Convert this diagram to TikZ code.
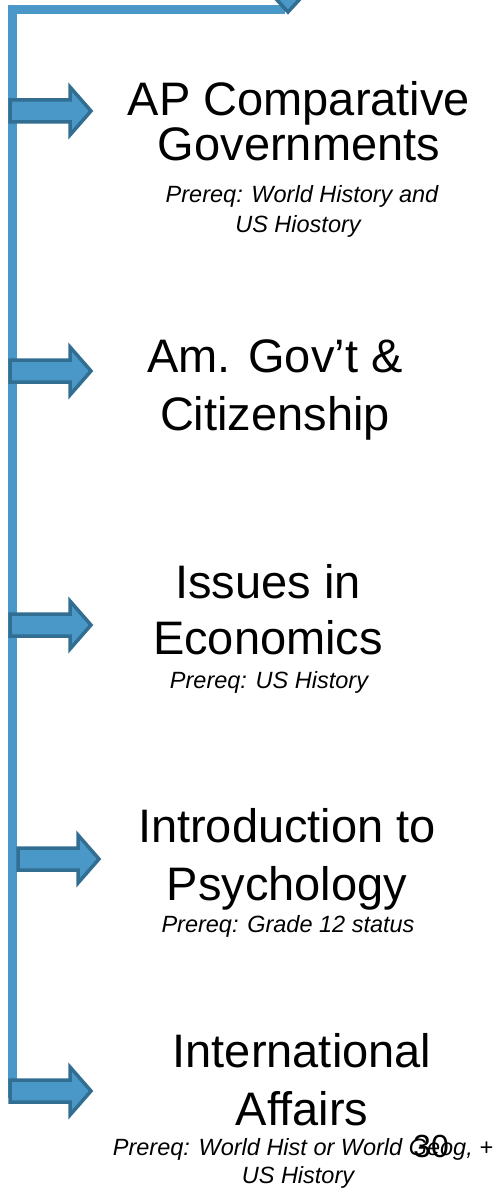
\documentclass[tikz,border=0pt]{standalone}
\usepackage{fontspec}
\setmainfont{Liberation Sans}
\definecolor{pathblue}{RGB}{74,152,200}
\definecolor{pathedge}{RGB}{49,110,146}
\begin{document}
\begin{tikzpicture}[x=1pt,y=-1pt]
\tikzstyle{course}=[inner sep=0pt,anchor=base,font=\fontsize{47}{56}\selectfont]
\tikzstyle{prereq}=[inner sep=0pt,anchor=base,font=\fontsize{23.5}{28}\selectfont\itshape]
\tikzstyle{blockarrow}=[fill=pathblue,draw=pathedge,line width=3.5pt,miter limit=4]
\useasboundingbox (0,0) rectangle (501,1190);
\draw[pathblue,line width=9pt] (285,9.5) -- (12.5,9.5) -- (12.5,1098);
\begin{scope}
\clip (0,0) rectangle (501,1190);
\filldraw[blockarrow] (266,-12) -- (288,12) -- (310,-12) -- cycle;
\end{scope}
\foreach \x/\y in {10/111,10/371,10/625,18/859,10/1091}
  \filldraw[blockarrow] (\x,\y-11) -- (\x+60,\y-11) -- (\x+60,\y-24) -- (\x+81,\y)
    -- (\x+60,\y+24) -- (\x+60,\y+11) -- (\x,\y+11) -- cycle;
\node[course] (apcomp) at (299,116) {AP Comparative};
\node[course] (apgov) at (299,161) {Governments};
\node[prereq] (appre) at (302,203) {Prereq: World History and};
\node[prereq] (appreb) at (298,233) {US Hiostory};
\node[course] (amgov) at (275,372) {Am. Gov’t \&};
\node[course] (amcit) at (275,430) {Citizenship};
\node[course] (issues) at (268,598) {Issues in};
\node[course] (econ) at (268,654) {Economics};
\node[prereq] (econpre) at (269,688) {Prereq: US History};
\node[course] (intro) at (287,842) {Introduction to};
\node[course] (psych) at (287,900) {Psychology};
\node[prereq] (psychpre) at (288,932) {Prereq: Grade 12 status};
\node[course] (intl) at (302,1067) {International};
\node[course] (affairs) at (302,1125) {Affairs};
\node[prereq] (intlpre) at (303,1155) {Prereq: World Hist or World Geog, +};
\node[prereq] (intlpreb) at (298,1183) {US History};
\node[inner sep=0pt,anchor=base,font=\fontsize{32}{38}\selectfont] (pagenum) at (431,1157) {30};
\end{tikzpicture}
\end{document}
